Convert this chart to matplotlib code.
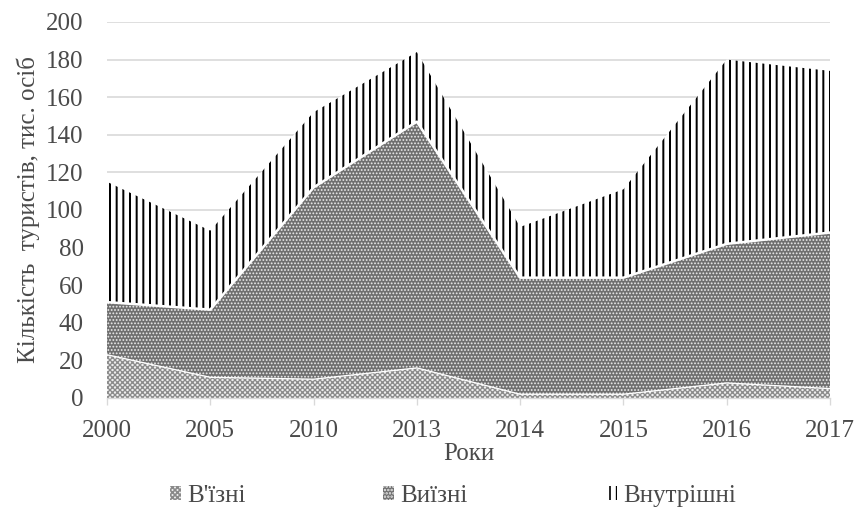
import matplotlib.pyplot as plt
import numpy as np

# ---   DATA   --- #
YEARS = ['2000', '2005', '2010', '2013', '2014', '2015', '2016', '2017']
INBOUND = [23, 11, 10, 16, 2, 2, 8, 5]          # В'їзні
OUTBOUND = [28, 36, 102, 131, 62, 62, 74, 83]   # Виїзні
DOMESTIC = [64, 42, 40, 37, 27, 47, 98, 86]     # Внутрішні
LABELS = ["В'їзні", 'Виїзні', 'Внутрішні']

DPI = 120
TXT = '#4a4a4a'

plt.rcParams['font.family'] = ['Liberation Serif', 'DejaVu Serif']
plt.rcParams['font.size'] = 15

fig = plt.figure(figsize=(859 / DPI, 510 / DPI), dpi=DPI)
ax = fig.add_axes([107 / 859, 1 - 398 / 510, (830 - 107) / 859, (398 - 22) / 510])

x = np.arange(len(YEARS))
b1 = np.array(INBOUND, dtype=float)
b2 = b1 + np.array(OUTBOUND)
b3 = b2 + np.array(DOMESTIC)

# Areas (hatch linewidth read at creation)
with plt.rc_context({'hatch.linewidth': 0.8}):
    p1 = ax.fill_between(x, 0, b1, facecolor='#eeeeee', edgecolor='#8a8a8a',
                         hatch='xxxxxxxx', linewidth=0, zorder=2, label=LABELS[0])
with plt.rc_context({'hatch.linewidth': 0.7}):
    p2 = ax.fill_between(x, b1, b2, facecolor='#6f6f6f', edgecolor='#ececec',
                         hatch='......', linewidth=0, zorder=2, label=LABELS[1])
with plt.rc_context({'hatch.linewidth': 1.2}):
    p3 = ax.fill_between(x, b2, b3, facecolor='white', edgecolor='black',
                         hatch='|||', linewidth=0, zorder=2, label=LABELS[2])

# White separators between stacks
ax.plot(x, b1, color='white', lw=0.8, zorder=3)
ax.plot(x, b2, color='white', lw=1.5, zorder=3)

# Axes format
ax.set_xlim(0, len(YEARS) - 1)
ax.set_ylim(0, 200)
ax.set_yticks(np.arange(0, 201, 20))
ax.set_xticks(x)
ax.set_xticklabels(YEARS)
ax.yaxis.grid(True, color='#d9d9d9', lw=1)
ax.set_axisbelow(True)
for s in ['top', 'right', 'left']:
    ax.spines[s].set_visible(False)
ax.spines['bottom'].set_color('#d9d9d9')
ax.tick_params(axis='y', length=0, labelsize=15, labelcolor=TXT, pad=14)
ax.tick_params(axis='x', length=4, color='#d9d9d9', labelsize=15,
               labelcolor=TXT, pad=9)
ax.set_xlabel('Роки', fontsize=15, color=TXT, labelpad=1)
ax.set_ylabel('Кількість  туристів, тис. осіб', fontsize=15, color=TXT,
              labelpad=4)

fig.legend([p1, p2, p3], LABELS, loc='center', bbox_to_anchor=(0.527, 1 - 496 / 510),
           ncol=3, frameon=False, fontsize=15, handlelength=0.45,
           handleheight=0.45, handletextpad=0.25, columnspacing=5.5,
           labelcolor=TXT, borderpad=0)

plt.savefig('out.png', dpi=DPI)
